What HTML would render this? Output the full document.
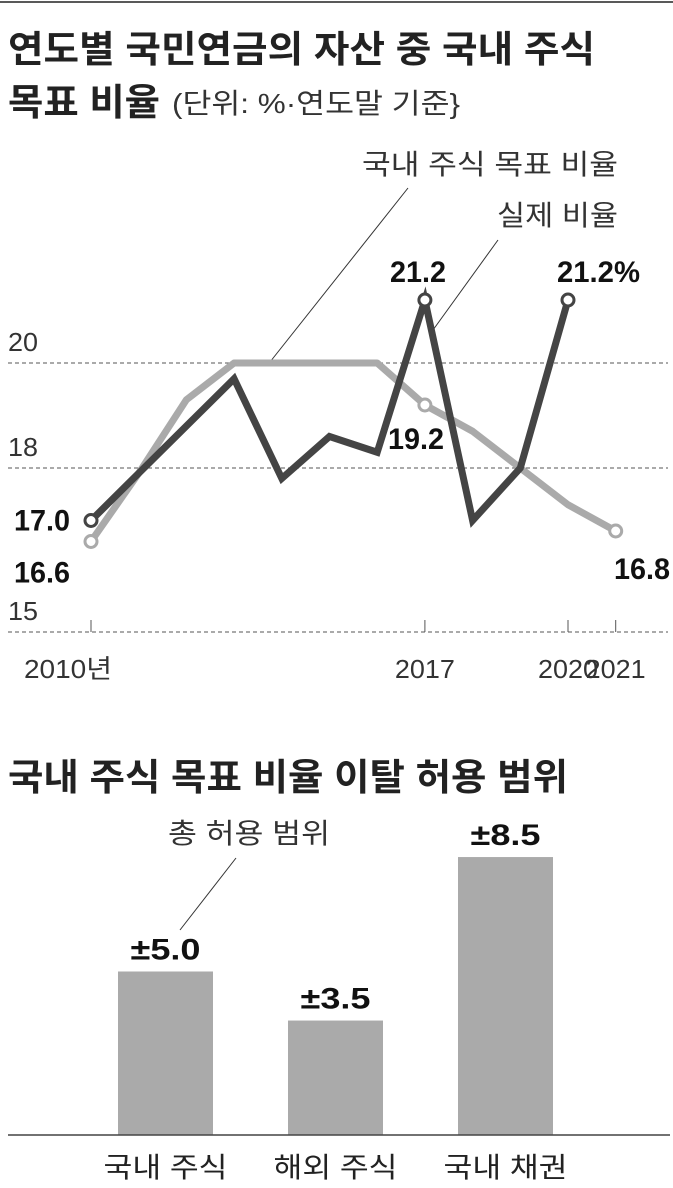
<!DOCTYPE html>
<html><head><meta charset="utf-8"><style>
html,body{margin:0;padding:0;background:#fff;}
svg{display:block;font-family:"Liberation Sans","Noto Sans CJK KR",sans-serif;}
</style></head><body>
<svg id="c" width="673" height="1188" viewBox="0 0 673 1188" xmlns="http://www.w3.org/2000/svg">
<line x1="0" y1="2" x2="673" y2="2" stroke="#222" stroke-width="1.5"/>
<text x="8" y="62" font-size="37" font-weight="bold" fill="#222" textLength="587" lengthAdjust="spacingAndGlyphs">연도별 국민연금의 자산 중 국내 주식</text>
<text x="8" y="115" font-size="37" font-weight="bold" fill="#222" textLength="152" lengthAdjust="spacingAndGlyphs">목표 비율</text>
<text x="172" y="113" font-size="28" fill="#333" textLength="288" lengthAdjust="spacingAndGlyphs">(단위: %·연도말 기준}</text>
<text x="362" y="174" font-size="28" fill="#333" textLength="256" lengthAdjust="spacingAndGlyphs">국내 주식 목표 비율</text>
<text x="497" y="225" font-size="28" fill="#333" textLength="121" lengthAdjust="spacingAndGlyphs">실제 비율</text>
<line x1="408" y1="188" x2="270" y2="362" stroke="#333" stroke-width="1"/>
<line x1="498" y1="240" x2="433" y2="330" stroke="#333" stroke-width="1"/>
<g id="line-chart"></g>
<text x="8" y="790" font-size="37" font-weight="bold" fill="#222" textLength="560" lengthAdjust="spacingAndGlyphs">국내 주식 목표 비율 이탈 허용 범위</text>
<text x="168" y="843" font-size="28" fill="#333" textLength="162" lengthAdjust="spacingAndGlyphs">총 허용 범위</text>
<line x1="236" y1="858" x2="180" y2="930" stroke="#333" stroke-width="1"/>
<g id="bar-chart"></g>
</svg>
<script>
const years = [2010,2011,2012,2013,2014,2015,2016,2017,2018,2019,2020,2021];
const targetValues = [16.6,17.9,19.3,20,20,20,20,19.2,18.7,18.0,17.3,16.8];
const actualValues = [17.0,17.9,18.8,19.7,17.8,18.6,18.3,21.2,17.0,18.0,21.2];
const yTicks = [15,18,20];
const xTickYears = [2010,2017,2020,2021];
const xTickLabels = ['2010년','2017','2020','2021'];

const barCategories = ['국내 주식','해외 주식','국내 채권'];
const barValues = [5.0,3.5,8.5];
const barLabels = ['±5.0','±3.5','±8.5'];

const NS='http://www.w3.org/2000/svg';
function mk(tag, attrs, parent){const e=document.createElementNS(NS,tag);for(const k in attrs)e.setAttribute(k,attrs[k]);parent.appendChild(e);return e;}
const xs = y => 91 + (y-2010)*47.7;
const ys = v => 363 + (20-v)*52.5;
const lc = document.getElementById('line-chart');

yTicks.forEach(t=>{
  const yy = t===15 ? 632 : ys(t);
  const g = mk('line',{x1:8,y1:yy,x2:668,y2:yy,stroke:'#555','stroke-width':1,'stroke-dasharray':'4,3'},lc);
  
  
  const tx = mk('text',{x:8,y:yy-12,'font-size':26,fill:'#333',textLength:t>=10?30:15,lengthAdjust:'spacingAndGlyphs'},lc);
  tx.textContent=t;
  
  
});
xTickYears.forEach((yr,i)=>{
  const x = xs(yr);
  const tk = mk('line',{x1:x,y1:620,x2:x,y2:632,stroke:'#555','stroke-width':1},lc);
  
  
  const lab = mk('text',{x: i===0 ? 24 : x, y:678,'font-size':26,fill:'#333','text-anchor': i===0?'start':'middle',textLength: i===0?88:60,lengthAdjust:'spacingAndGlyphs'},lc);
  lab.textContent = xTickLabels[i];
  
  
});
const tp = mk('polyline',{points:targetValues.map((v,i)=>xs(years[i])+','+ys(v)).join(' '),fill:'none',stroke:'#aaa','stroke-width':7,'stroke-linejoin':'round'},lc);


const ap = mk('polyline',{points:actualValues.map((v,i)=>xs(years[i])+','+ys(v)).join(' '),fill:'none',stroke:'#444','stroke-width':7,'stroke-linejoin':'miter'},lc);


[[0,'t'],[7,'t'],[11,'t']].forEach(([i])=>{
  const c = mk('circle',{cx:xs(years[i]),cy:ys(targetValues[i]),r:6,fill:'#fff',stroke:'#aaa','stroke-width':3},lc);
  
  
});
[0,7,10].forEach(i=>{
  const c = mk('circle',{cx:xs(years[i]),cy:ys(actualValues[i]),r:6,fill:'#fff',stroke:'#444','stroke-width':3},lc);
  
  
});
function vlabel(txt,x,y,w,name){
  const t = mk('text',{x:x,y:y,'font-size':30,'font-weight':'bold',fill:'#111',textLength:w,lengthAdjust:'spacingAndGlyphs'},lc);
  t.textContent = txt;
  
  
}
vlabel(actualValues[0].toFixed(1),14,ys(actualValues[0])+10,56,'actual-label-2010');
vlabel(targetValues[0].toFixed(1),14,ys(targetValues[0])+41,56,'target-label-2010');
vlabel(actualValues[7].toFixed(1),390,ys(actualValues[7])-18,56,'actual-label-2017');
vlabel(targetValues[7].toFixed(1),388,ys(targetValues[7])+44,56,'target-label-2017');
vlabel(actualValues[10].toFixed(1)+'%',557,ys(actualValues[10])-18,83,'actual-label-2020');
vlabel(targetValues[11].toFixed(1),614,ys(targetValues[11])+48,56,'target-label-2021');

const bc = document.getElementById('bar-chart');
const base = 1135, unit = 32.7;
const bx = i => 118 + i*170;
barValues.forEach((v,i)=>{
  const h = v*unit;
  const r = mk('rect',{x:bx(i),y:base-h,width:95,height:h,fill:'#aaa'},bc);
  
  
  const t = mk('text',{x:bx(i)+47.5,y:base-h-12,'font-size':30,'font-weight':'bold',fill:'#111','text-anchor':'middle',textLength:70,lengthAdjust:'spacingAndGlyphs'},bc);
  t.textContent = barLabels[i];
  
  
  const c = mk('text',{x:bx(i)+47.5,y:1177,'font-size':28,fill:'#222','text-anchor':'middle',textLength:124,lengthAdjust:'spacingAndGlyphs'},bc);
  c.textContent = barCategories[i];
  
  
});
const axis = mk('line',{x1:8,y1:base,x2:670,y2:base,stroke:'#444','stroke-width':1.5},bc);


</script>
</body></html>
